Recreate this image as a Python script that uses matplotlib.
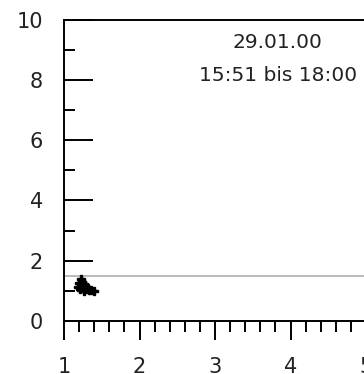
import matplotlib
matplotlib.use("Agg")
import matplotlib.pyplot as plt
from matplotlib.ticker import MultipleLocator

# Measurements (x: ratio, y: value)
x_vals = [1.22, 1.20, 1.22, 1.25, 1.28, 1.30, 1.33, 1.36, 1.40, 1.24, 1.18, 1.27, 1.21, 1.26]
y_vals = [1.40, 1.25, 1.15, 1.10, 1.18, 1.06, 1.04, 1.02, 1.00, 1.28, 1.12, 1.00, 1.05, 1.22]
limit_value = 1.5
date_label = "29.01.00"
time_label = "15:51 bis 18:00"
x_ticks = [1, 2, 3, 4, 5]
y_ticks = [0, 2, 4, 6, 8, 10]

plt.rcParams["font.family"] = ["DejaVu Sans"]

fig = plt.figure(figsize=(3.64, 3.74), dpi=100)
ax = fig.add_axes([64 / 364, 1 - 321 / 374, 5 * 75.5 / 364, (321 - 19.5) / 374])
ax.set_xlim(1, 6)
ax.set_ylim(0, 10)

ax.axhline(limit_value, color="#b4b4b4", lw=1.3, zorder=1)
ax.plot(x_vals, y_vals, linestyle="none", marker="P", ms=6, color="black",
        mec="black", mew=1.0, zorder=3)

ax.set_xticks(x_ticks)
ax.set_yticks(y_ticks)
ax.xaxis.set_minor_locator(MultipleLocator(0.2))
ax.yaxis.set_minor_locator(MultipleLocator(1))

ax.tick_params(axis="x", which="major", direction="out", length=13.5, width=1.4,
               pad=12.5, labelsize=15, colors="black", labelcolor="#222222")
ax.tick_params(axis="x", which="minor", direction="out", length=8, width=1.4)
ax.tick_params(axis="y", which="major", direction="in", length=21, width=1.4,
               pad=15, labelsize=15, labelcolor="#222222")
ax.tick_params(axis="y", which="minor", direction="in", length=8, width=1.4)

for side in ("left", "bottom", "top"):
    ax.spines[side].set_linewidth(1.4)
ax.spines["right"].set_visible(False)

ax.text(3.83, 9.07, date_label, ha="center", va="baseline", fontsize=14.5, color="#222222")
ax.text(3.83, 7.97, time_label, ha="center", va="baseline", fontsize=14.5, color="#222222")

fig.savefig("out.png", dpi=100)
